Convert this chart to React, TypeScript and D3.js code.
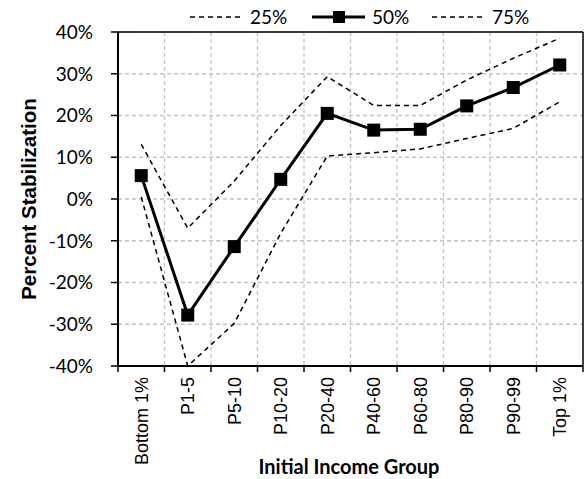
import React from "react";
import * as d3 from "d3";

const categories = ["Bottom 1%", "P1-5", "P5-10", "P10-20", "P20-40", "P40-60", "P60-80", "P80-90", "P90-99", "Top 1%"];
const p25 = [0.5, -40, -29.8, -8.2, 10.3, 11.1, 12.0, 14.5, 16.9, 23.3];
const p50 = [5.6, -27.8, -11.4, 4.7, 20.5, 16.5, 16.7, 22.3, 26.7, 32.1];
const p75 = [13.1, -7.0, 4.3, 17.6, 29.3, 22.4, 22.4, 28.5, 33.7, 38.5];
const yTicks = [-40, -30, -20, -10, 0, 10, 20, 30, 40];

const W = 584, H = 479;
const L = 118, R = 583, T = 32, B = 366;

export default function App() {
  const x = d3.scaleBand<string>().domain(categories).range([L, R]).padding(0);
  const y = d3.scaleLinear().domain([-40, 40]).range([B, T]);
  const cx = (i: number) => (x(categories[i]) as number) + x.bandwidth() / 2;
  const line = d3.line<number>().x((_, i) => cx(i)).y((d) => y(d));
  const bounds = [...categories.map((c) => x(c) as number), R];
  const tickFont = "Lato, 'Open Sans', sans-serif";
  const armFont = "'Liberation Sans', Arial, sans-serif";
  return (
    <div style={{ position: "fixed", left: 0, top: 0 }}>
      <svg width={W} height={H} style={{ display: "block", background: "#fff" }}>
        <defs>
          <clipPath id="plot">
            <rect x={L} y={T - 2} width={R - L} height={B - T + 4} />
          </clipPath>
        </defs>
        {/* gridlines */}
        {yTicks.map((t) => (
          <line key={"gy" + t} x1={L} x2={R} y1={y(t)} y2={y(t)} stroke="#c4c4c4" strokeWidth={1.3} strokeDasharray="4,3" />
        ))}
        {bounds.slice(1, -1).map((b, i) => (
          <line key={"gx" + i} x1={b} x2={b} y1={T} y2={B} stroke="#c4c4c4" strokeWidth={1.3} strokeDasharray="4,3" />
        ))}
        {/* box */}
        <line x1={L} x2={R} y1={T} y2={T} stroke="#000" strokeWidth={1.5} />
        <line x1={R} x2={R} y1={T} y2={B} stroke="#000" strokeWidth={1.5} />
        <line x1={L} x2={L} y1={T} y2={B} stroke="#000" strokeWidth={2} />
        <line x1={L} x2={R} y1={B} y2={B} stroke="#000" strokeWidth={2} />
        {/* y ticks */}
        {yTicks.map((t) => (
          <g key={"yt" + t}>
            <line x1={L - 7} x2={L} y1={y(t)} y2={y(t)} stroke="#000" strokeWidth={1.5} />
            <text x={93} y={y(t)} dy="0.36em" textAnchor="end" fontFamily={tickFont} fontSize={19} fill="#000">
              {t + "%"}
            </text>
          </g>
        ))}
        {/* x ticks */}
        {bounds.map((b, i) => (
          <line key={"xt" + i} x1={b} x2={b} y1={B} y2={B + 6} stroke="#000" strokeWidth={1.5} />
        ))}
        {categories.map((c, i) => (
          <text key={c} transform={`translate(${cx(i)},${B + 11}) rotate(-90)`} textAnchor="end" dy="0.35em" fontFamily={armFont} fontSize={18} fill="#000">
            {c}
          </text>
        ))}
        {/* series */}
        <g clipPath="url(#plot)">
          <path d={line(p25) || ""} fill="none" stroke="#000" strokeWidth={1.5} strokeDasharray="5,4" />
          <path d={line(p75) || ""} fill="none" stroke="#000" strokeWidth={1.5} strokeDasharray="5,4" />
          <path d={line(p50) || ""} fill="none" stroke="#000" strokeWidth={3} />
          {p50.map((v, i) => (
            <rect key={"m" + i} x={cx(i) - 6.5} y={y(v) - 6.5} width={13} height={13} fill="#000" />
          ))}
        </g>
        {/* titles */}
        <text transform={`translate(29,199) rotate(-90)`} textAnchor="middle" dy="0.35em" fontFamily={armFont} fontWeight="bold" fontSize={20.5} fill="#000">
          Percent Stabilization
        </text>
        <text x={349} y={467} textAnchor="middle" dy="0.35em" fontFamily={tickFont} fontWeight="bold" fontSize={20} fill="#000">
          Initial Income Group
        </text>
        {/* legend */}
        <line x1={190} x2={243} y1={17} y2={17} stroke="#000" strokeWidth={1.5} strokeDasharray="5,4" />
        <text x={250} y={17} dy="0.36em" fontFamily={tickFont} fontSize={19} fill="#000">25%</text>
        <line x1={312} x2={365} y1={17} y2={17} stroke="#000" strokeWidth={3} />
        <rect x={333} y={11} width={12} height={12} fill="#000" />
        <text x={372} y={17} dy="0.36em" fontFamily={tickFont} fontSize={19} fill="#000">50%</text>
        <line x1={432} x2={485} y1={17} y2={17} stroke="#000" strokeWidth={1.5} strokeDasharray="5,4" />
        <text x={492} y={17} dy="0.36em" fontFamily={tickFont} fontSize={19} fill="#000">75%</text>
      </svg>
    </div>
  );
}
